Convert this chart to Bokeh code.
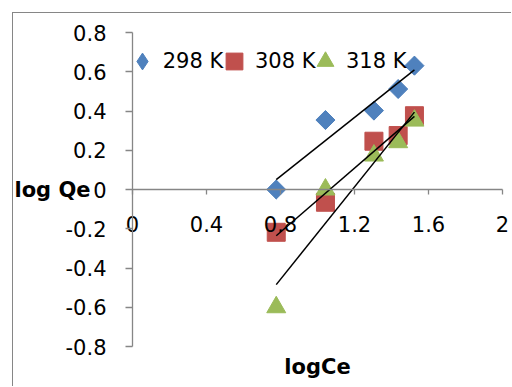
import numpy as np
from bokeh.plotting import figure
from bokeh.models import Range1d, FixedTicker, Label, Legend, LegendItem
from bokeh.embed import file_html
from bokeh.resources import INLINE

# ---- data ----
log_ce = [0.777, 1.043, 1.305, 1.436, 1.524]
q_298 = [0.0, 0.354, 0.402, 0.512, 0.631]
q_308 = [-0.218, -0.065, 0.246, 0.275, 0.376]
q_318 = [-0.60, 0.0, 0.173, 0.241, 0.351]
series_names = ["298 K", "308 K", "318 K"]
series_colors = ["#4F81BD", "#C0504D", "#9BBB59"]
x_ticks = [0, 0.4, 0.8, 1.2, 1.6, 2]
x_tick_labels = ["0", "0.4", "0.8", "1.2", "1.6", "2"]
y_ticks = [-0.8, -0.6, -0.4, -0.2, 0, 0.2, 0.4, 0.6, 0.8]
y_tick_labels = ["-0.8", "-0.6", "-0.4", "-0.2", "0", "0.2", "0.4", "0.6", "0.8"]
x_title = "logCe"
y_title = "log Qe"

# ---- layout (pixels in the 512x387 window) ----
FONT = "DejaVu Sans"
FS = "21px"
AXIS_GREY = "#868686"
OFF = 13                 # figure starts at (13, 13) after margin + border
W, H = 512 - OFF, 387 - OFF
ORIGIN_X, ORIGIN_Y = 132, 189   # pixel position of data (0, 0)
PX_X, PX_Y = 185.0, 196.25      # pixels per data unit

x_lo = (OFF - ORIGIN_X) / PX_X
x_hi = (OFF + W - ORIGIN_X) / PX_X
y_hi = (ORIGIN_Y - OFF) / PX_Y
y_lo = (ORIGIN_Y - (OFF + H)) / PX_Y

p = figure(width=W, height=H, output_backend="svg", toolbar_location=None,
           x_range=Range1d(x_lo, x_hi), y_range=Range1d(y_lo, y_hi),
           min_border_left=0, min_border_top=0, min_border_right=0, min_border_bottom=0)
p.margin = (12, 0, 0, 12)
p.styles = {"border-left": "1px solid #868686", "border-top": "1px solid #868686"}
p.outline_line_color = None
p.background_fill_color = "white"
p.border_fill_color = "white"
p.grid.visible = False

# axes crossing at (0, 0)
xa = p.xaxis[0]
xa.fixed_location = 0
xa.bounds = (x_ticks[0], x_ticks[-1])
xa.ticker = FixedTicker(ticks=x_ticks)
xa.major_label_overrides = {t: l for t, l in zip(x_ticks, x_tick_labels)}
ya = p.yaxis[0]
ya.fixed_location = 0
ya.bounds = (y_ticks[0], y_ticks[-1])
ya.ticker = FixedTicker(ticks=y_ticks)
ya.major_label_overrides = {t: l for t, l in zip(y_ticks, y_tick_labels)}
for ax in (xa, ya):
    ax.axis_line_color = AXIS_GREY
    ax.axis_line_width = 1.3
    ax.major_tick_line_color = AXIS_GREY
    ax.major_tick_line_width = 1.3
    ax.major_tick_in = 0
    ax.minor_tick_line_color = None
    ax.major_label_text_font = FONT
    ax.major_label_text_font_size = FS
    ax.major_label_text_color = "black"
xa.major_tick_out = 5
xa.major_label_standoff = 21
ya.major_tick_out = 7
ya.major_label_standoff = 19

# markers (narrow diamond hidden under the rotated square gives the legend a diamond)
r298_leg = p.scatter(log_ce, q_298, marker="diamond", size=18,
                     fill_color=series_colors[0], line_color=series_colors[0])
p.scatter(log_ce, q_298, marker="square", size=13.5, angle=np.pi / 4,
          fill_color=series_colors[0], line_color=series_colors[0])
r308 = p.scatter(log_ce, q_308, marker="square", size=18,
                 fill_color=series_colors[1], line_color=series_colors[1])
r318 = p.scatter(log_ce, q_318, marker="triangle", size=19,
                 fill_color=series_colors[2], line_color=series_colors[2])

# linear trendlines (least squares of each series)
for ys in (q_298, q_308, q_318):
    m, b = np.polyfit(log_ce, ys, 1)
    xs = [min(log_ce), max(log_ce)]
    p.line(xs, [m * x + b for x in xs], line_color="black", line_width=1.5)

# legend: one block per entry so each marker sits where the reference has it
GB = 42
legend_centres = [141.7, 234, 325]
legend_cy = 61
for name, rend, cx in zip(series_names, [r298_leg, r308, r318], legend_centres):
    lg = Legend(items=[LegendItem(label=name, renderers=[rend])],
                orientation="horizontal",
                location=(cx - GB / 2 - OFF, (OFF + H) - (legend_cy + GB / 2)),
                glyph_width=GB, glyph_height=GB, label_standoff=0, spacing=0,
                padding=0, margin=0, border_line_color=None, background_fill_alpha=0,
                label_text_font=FONT, label_text_font_size=FS, label_text_color="black")
    p.add_layout(lg, "center")

p.add_layout(Label(x=0, y=0, x_offset=-42, text=y_title, text_align="right",
                   text_baseline="middle", text_font=FONT, text_font_size=FS,
                   text_font_style="bold", text_color="black"))
p.add_layout(Label(x=1.0, y=-0.907, text=x_title, text_align="center",
                   text_baseline="middle", text_font=FONT, text_font_size=FS,
                   text_font_style="bold", text_color="black"))

open("out.html", "w").write(file_html(p, INLINE))
